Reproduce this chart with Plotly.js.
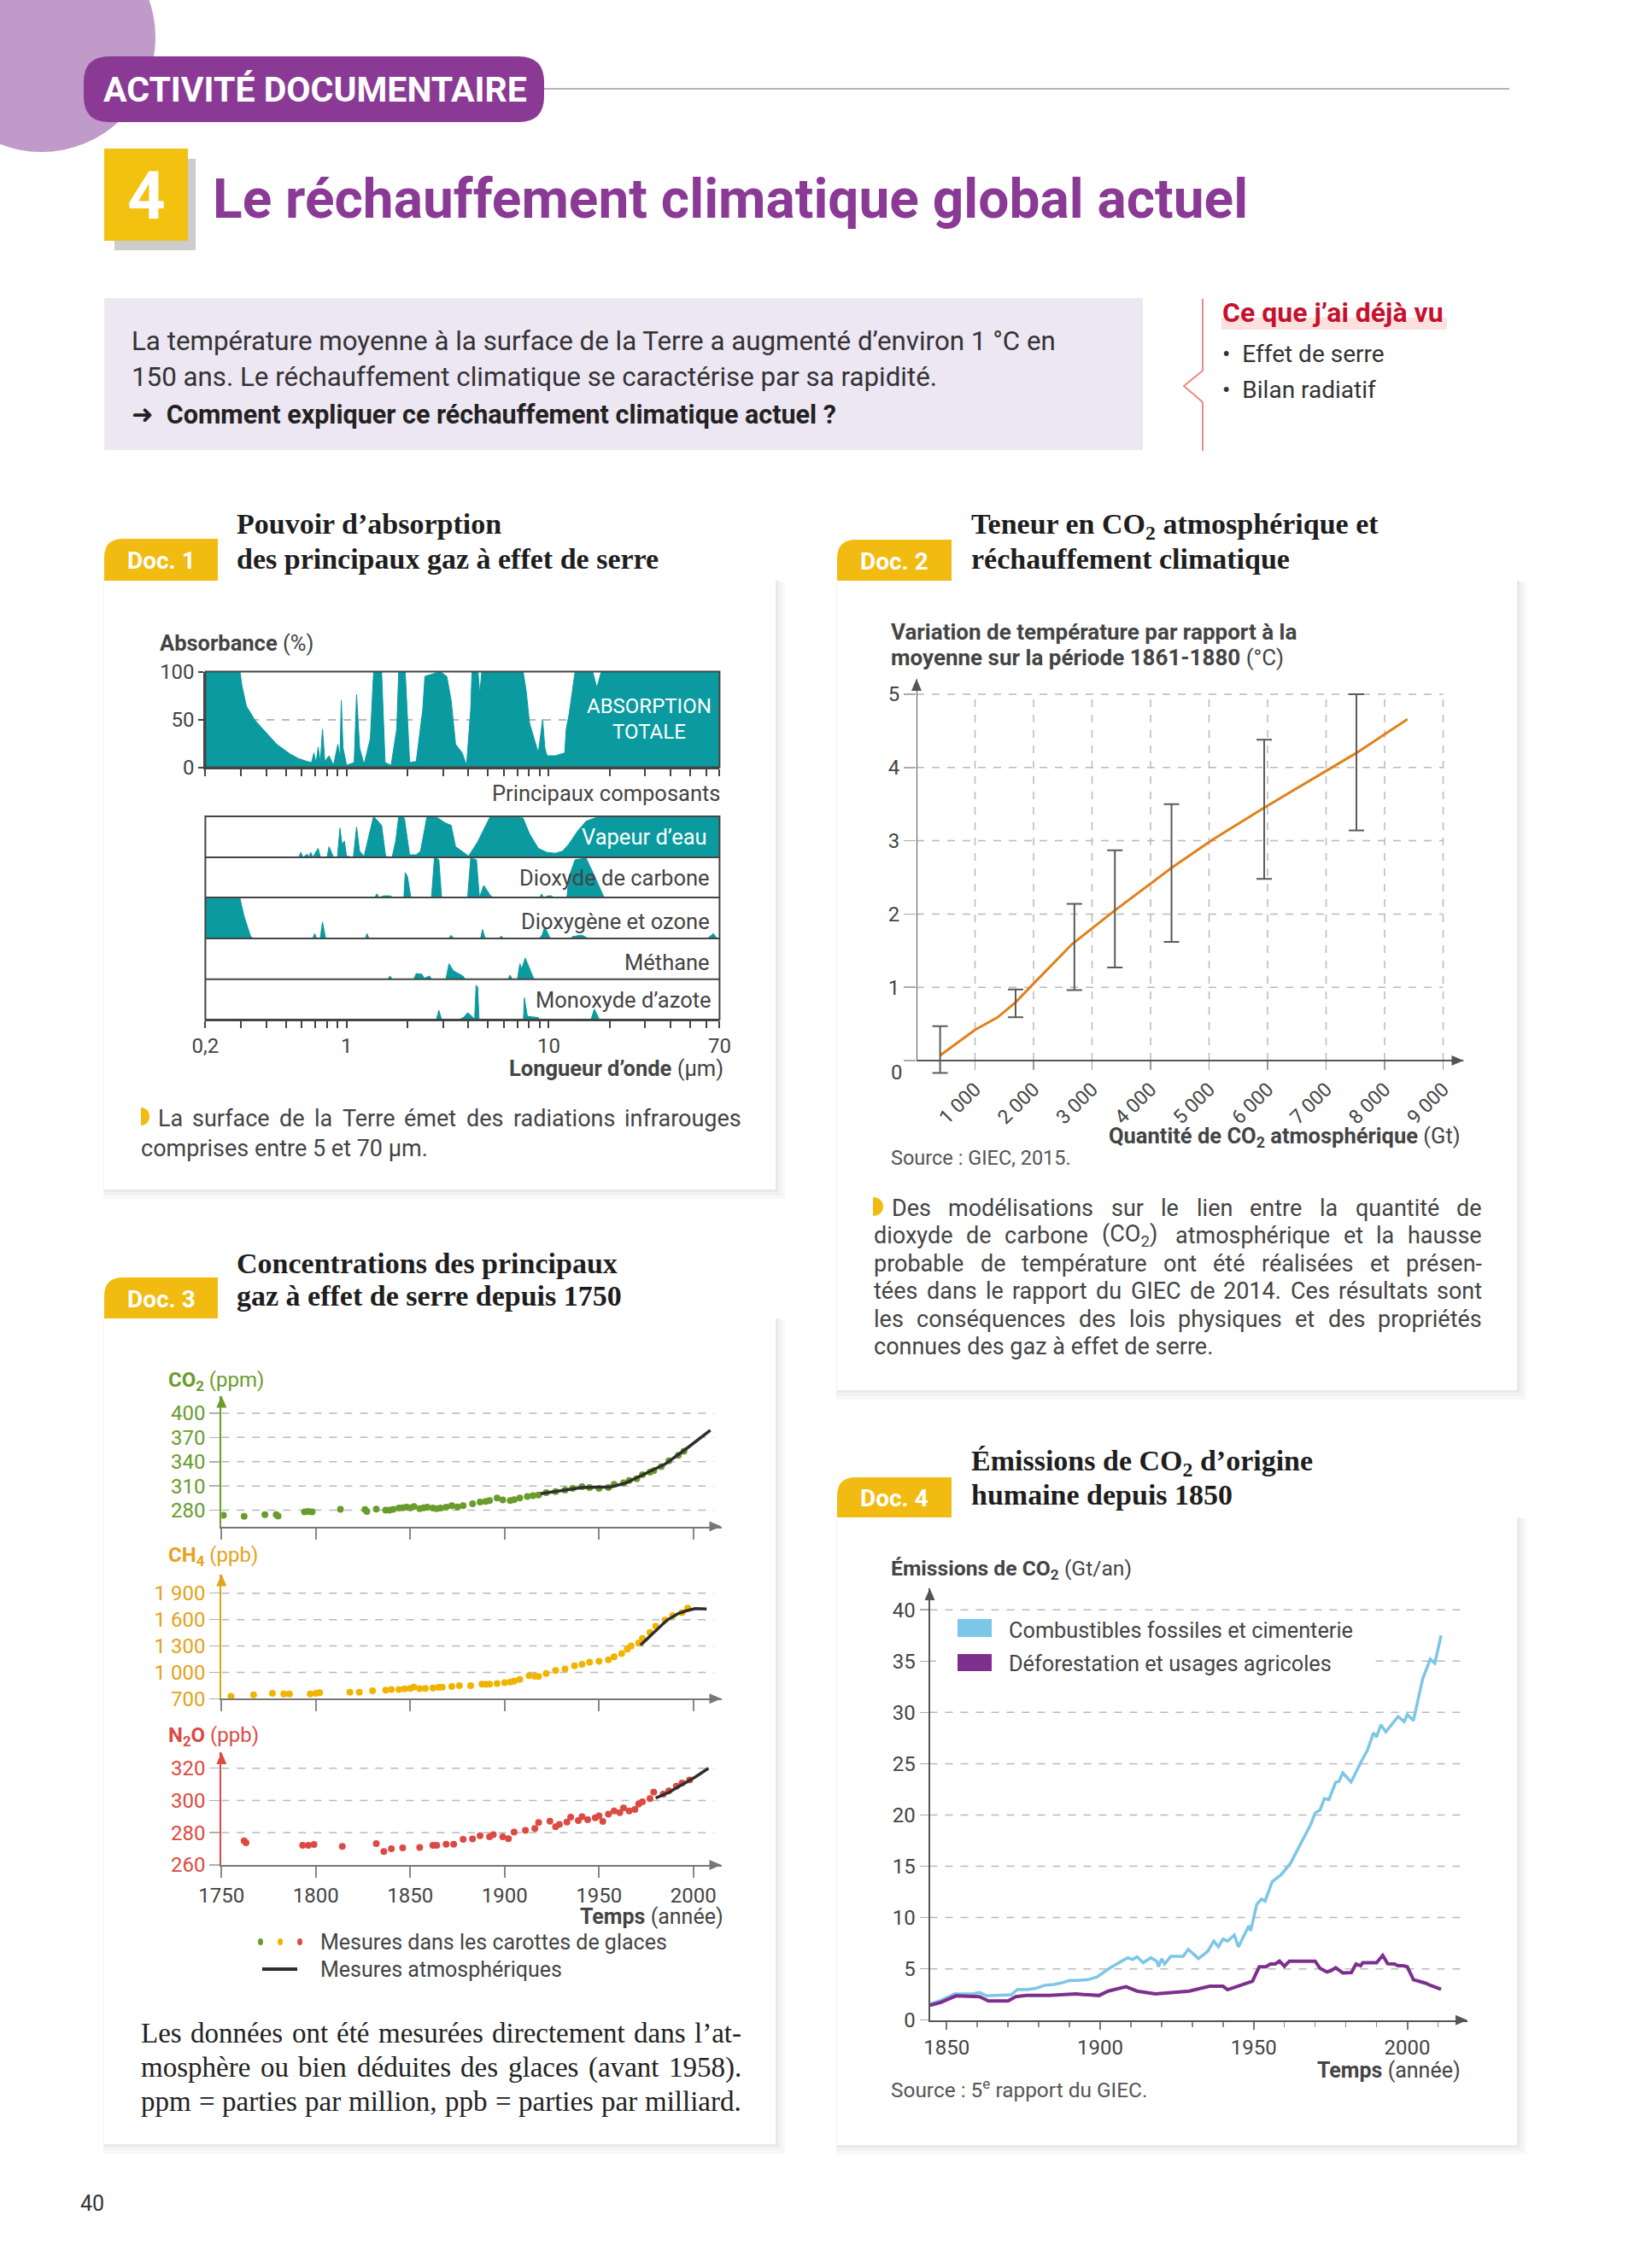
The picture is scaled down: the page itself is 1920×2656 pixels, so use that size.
<!DOCTYPE html>
<html><head><meta charset="utf-8">
<script src="https://cdn.plot.ly/plotly-3.0.1.min.js"></script>
<style>html,body{margin:0;padding:0;background:#fff}#chart{width:1920px;height:2656px}</style>
</head><body><div id="chart"></div>
<script>
// ---------------- DATA ----------------
// Doc 1 : absorption spectra  [wavelength µm, absorbance %]
const lamMajor=[0.2,1,10,70];
const lamMajorText=['0,2','1','10','70'];
const lamMinor=[0.3,0.4,0.5,0.6,0.7,0.8,0.9,2,3,4,5,6,7,8,9,20,30,40,50,60];
const absTotal=[[0.2,100],[0.297,100],[0.303,86],[0.319,64],[0.352,49],[0.409,34],[0.451,24],[0.524,14],[0.579,9],[0.639,6],[0.671,5],[0.689,15],[0.706,4],[0.723,21],[0.741,5],[0.760,40],[0.780,6],[0.819,12],[0.861,2],[0.905,24],[0.927,10],[0.941,70],[0.960,20],[1.0,2],[1.09,5],[1.12,76],[1.16,20],[1.22,3],[1.31,30],[1.36,100],[1.49,100],[1.55,5],[1.66,2],[1.77,40],[1.81,100],[1.95,100],[2.05,5],[2.21,6],[2.38,60],[2.44,95],[2.9,100],[3.13,95],[3.29,70],[3.46,24],[3.73,15],[3.92,2],[4.11,60],[4.17,100],[4.47,100],[4.56,76],[4.66,100],[7.47,100],[7.73,80],[8.04,46],[8.45,30],[8.88,15],[9.33,50],[9.57,20],[9.81,12],[10.8,12],[12.0,15],[12.2,40],[12.6,55],[13.5,100],[16.5,100],[17.3,83],[18.2,100],[70,100]];
const absH2O=[[0.2,0],[0.58,0],[0.593,12],[0.61,0],[0.639,8],[0.65,0],[0.665,12],[0.68,0],[0.723,22],[0.742,0],[0.80,0],[0.819,26],[0.861,0],[0.90,0],[0.927,71],[0.95,30],[0.974,40],[1.0,3],[1.08,0],[1.12,74],[1.16,15],[1.22,2],[1.31,67],[1.36,100],[1.49,78],[1.56,2],[1.68,1],[1.75,40],[1.81,100],[1.93,96],[2.05,6],[2.21,6],[2.32,15],[2.5,100],[2.83,96],[3.05,85],[3.29,78],[3.46,26],[3.72,15],[4.01,3],[4.43,36],[5.14,100],[7.46,96],[8.04,57],[8.88,22],[9.8,12],[10.8,10],[11.7,15],[12.6,33],[13.9,64],[15.3,88],[16.9,96],[18.7,100],[70,100]];
const absCO2=[[0.2,0],[1.38,0],[1.41,9],[1.45,0],[1.53,4],[1.64,4],[1.7,0],[1.92,0],[1.95,62],[2.0,52],[2.08,0],[2.63,0],[2.72,100],[2.86,94],[2.95,0],[3.97,0],[4.11,98],[4.39,94],[4.54,0],[4.77,30],[5.14,5],[5.3,0],[9.0,0],[9.24,9],[9.4,0],[10.0,4],[10.3,4],[10.6,0],[12.3,0],[12.6,52],[13.5,94],[15.3,98],[16.9,52],[18.7,2],[19.2,0],[70,0]];
const absO2O3=[[0.2,100],[0.296,100],[0.311,54],[0.335,5],[0.344,0],[0.68,0],[0.695,12],[0.71,0],[0.74,0],[0.76,40],[0.787,0],[1.24,0],[1.26,12],[1.29,0],[3.2,0],[3.29,8],[3.38,0],[4.6,0],[4.7,22],[4.85,0],[5.7,0],[5.82,6],[5.95,0],[9.0,0],[9.3,10],[9.56,29],[10.05,5],[10.2,0],[12.8,0],[13.2,5],[14.6,8],[15.7,0],[61,0],[63,5],[65.3,12],[68,0],[70,0]];
const absCH4=[[0.2,0],[1.6,0],[1.64,8],[1.68,0],[2.15,0],[2.21,14],[2.36,12],[2.42,2],[2.57,8],[2.63,0],[3.1,0],[3.21,38],[3.37,21],[3.78,7],[3.85,0],[6.3,0],[6.43,10],[6.6,0],[7.0,0],[7.2,38],[7.35,25],[7.65,52],[8.45,0],[70,0]];
const absN2O=[[0.2,0],[2.78,0],[2.86,23],[2.95,0],[3.6,0],[3.78,5],[3.97,17],[4.17,8],[4.3,0],[4.37,85],[4.45,80],[4.52,0],[7.5,0],[7.57,54],[7.84,8],[8.88,5],[9.0,0],[16.2,0],[16.8,26],[17.5,5],[17.8,0],[70,0]];

// Doc 2 : warming vs cumulative CO2 (Gt, °C)
const co2Gt=[403,1000,1387,1700,2000,2660,3390,4360,5050,5940,7520,8390];
const warming=[0.07,0.42,0.59,0.8,1.05,1.59,2.05,2.63,3.01,3.45,4.2,4.66];
const errGt=[403,1693,2698,3390,4358,5942,7518];
const errLow=[-0.17,0.59,0.96,1.27,1.62,2.48,3.14];
const errHigh=[0.47,0.97,2.14,2.87,3.5,4.38,5.0];
const gtTicks=[1000,2000,3000,4000,5000,6000,7000,8000,9000];
const gtLabels=['1 000','2 000','3 000','4 000','5 000','6 000','7 000','8 000','9 000'];
const tempTicks=[1,2,3,4,5];

// Doc 3 : concentrations [year, value]
const co2Ice=[[1751,273.6],[1762,272.5],[1773,274.4],[1779,274.4],[1780,272.8],[1794,278],[1796,278.5],[1798,278],[1813,281],[1826,280.8],[1827,278.6],[1832,281.5],[1837,280],[1839,280],[1841,281],[1844,282.6],[1846,283],[1848,283.8],[1850,283],[1852,284.5],[1855,282],[1857,283],[1859,283.8],[1862,282.6],[1864,282],[1866,282.6],[1869,283.8],[1872,285.6],[1875,284],[1878,285.6],[1883,288],[1887,290],[1890,291],[1892,292],[1896,295],[1899,292.8],[1903,292],[1905,293],[1908,295],[1912,296.9],[1915,298],[1918,298.8],[1922,301.8],[1927,303],[1932,305],[1936,307],[1941,309],[1945,308],[1950,307],[1955,308],[1958,312],[1963,313.8],[1966,316.8],[1970,319],[1973,324],[1977,327],[1979,328.8],[1983,334],[1987,341],[1992,348],[1995,353]];
const co2Atm=[[1919,300.3],[1929,304],[1941,308],[1952,308.6],[1956,308.6],[1964,313.4],[1975,326],[1985,337],[1996,355.6],[2009,379]];
const ch4Ice=[[1755,728],[1767,745],[1777,762],[1783,755],[1786,755],[1797,755],[1800,762],[1802,769],[1818,773],[1823,773],[1830,790],[1837,797],[1840,804],[1844,804],[1847,811],[1850,818],[1852,831],[1855,814],[1858,818],[1862,821],[1865,828],[1867,831],[1872,838],[1876,849],[1882,849],[1888,866],[1890,862],[1892,866],[1896,873],[1900,883],[1903,890],[1905,900],[1908,918],[1913,963],[1916,955],[1918,953],[1922,987],[1927,1022],[1932,1039],[1937,1074],[1941,1091],[1945,1115],[1950,1126],[1955,1143],[1958,1177],[1962,1212],[1965,1264],[1967,1299],[1971,1333],[1973,1385],[1977,1454],[1980,1523],[1985,1593],[1989,1645],[1994,1679],[1997,1731]];
const ch4Atm=[[1972,1309],[1979,1454],[1986,1593],[1992,1669],[1996,1698],[2001,1724],[2007,1721]];
const n2oIce=[[1762,274.9],[1763,273.8],[1793,272.2],[1796,272.2],[1799,272.7],[1814,271.5],[1832,273.2],[1836,268.4],[1840,270.1],[1846,270.6],[1855,270.8],[1862,272.2],[1864,272.2],[1869,272.9],[1873,272.9],[1878,275.9],[1883,276.1],[1887,278.2],[1892,277.5],[1894,278.8],[1899,277.5],[1902,276.3],[1905,280.4],[1911,281.4],[1916,282.6],[1918,286.3],[1924,287.2],[1927,283.7],[1929,285.1],[1933,286.6],[1935,289.6],[1939,287.6],[1941,289.9],[1944,288.1],[1948,289.2],[1950,290.5],[1952,287],[1955,291.5],[1958,293.5],[1961,292.4],[1963,295.3],[1966,293.5],[1969,294.4],[1971,297.7],[1973,299.2],[1977,301.2],[1979,305.2],[1984,303.9],[1987,305.9],[1991,308.9],[1994,310.8],[1998,312.7]];
const n2oAtm=[[1980,301.5],[1987,305],[1994,309.8],[2001,314.6],[2008,320]];
const yearTicks=[1750,1800,1850,1900,1950,2000];

// Doc 4 : emissions (Gt CO2 / year)
const fossil=[[1844.6,1.58],[1848,1.9],[1852.6,2.55],[1858.5,2.55],[1860.7,2.7],[1863,2.36],[1871,2.47],[1873,2.97],[1876,2.97],[1879,3.1],[1882,3.4],[1885,3.47],[1888,3.67],[1890,3.86],[1892,3.86],[1896,3.94],[1899,4.2],[1901,4.6],[1903,5.05],[1907,5.75],[1909,6.08],[1910.6,5.9],[1912,6.17],[1914,5.6],[1916.5,6.08],[1918.4,5.75],[1919,5.2],[1920,5.97],[1921,5.47],[1923,6.22],[1927,6.22],[1928.7,6.9],[1932,6.0],[1935,6.7],[1937,7.7],[1938.5,7.14],[1940,7.9],[1941.5,7.7],[1943.7,8.3],[1945,7.14],[1948.4,9.2],[1949,8.7],[1951,11.3],[1952.5,11.8],[1953.7,11.6],[1956,13.5],[1959,14.2],[1962,15.3],[1965,17],[1968.6,19.1],[1970,20.2],[1971.6,20.5],[1973,21.6],[1974.5,21.5],[1976.7,23.2],[1977.7,23.25],[1979,24.1],[1981.7,23.2],[1985,25.2],[1987,26.3],[1989,28],[1990,27.6],[1991.4,28.8],[1993,28.1],[1997,29.6],[1999,29.1],[2000,29.8],[2002,29.2],[2005,33.25],[2007.5,35.2],[2009,34.8],[2011,37.5]];
const landUse=[[1844.6,1.44],[1848,1.72],[1853,2.36],[1860.7,2.28],[1863.6,1.86],[1870,1.86],[1872.5,2.28],[1876,2.4],[1883.5,2.4],[1892,2.55],[1899.6,2.4],[1902.6,2.83],[1908.4,3.25],[1912,2.83],[1918,2.55],[1929,2.83],[1935.6,3.3],[1940,3.3],[1941.5,2.97],[1949.6,3.8],[1951.8,5.2],[1954,5.2],[1955.4,5.47],[1957,5.47],[1958.4,5.75],[1960,5.25],[1961.6,5.75],[1970,5.75],[1971.6,5.05],[1973.8,4.7],[1975,4.8],[1976.7,5.1],[1979,4.6],[1981.8,4.64],[1983.3,5.47],[1984.8,5.3],[1985.5,5.6],[1990,5.6],[1992,6.3],[1993.6,5.5],[1995.8,5.47],[1997,5.3],[1998.7,5.3],[2000,5.2],[2002,3.94],[2004.6,3.75],[2006,3.6],[2007.5,3.39],[2009.8,3.1],[2011,3.0]];
const emTicks=[0,5,10,15,20,25,30,35,40];

// ---------------- HELPERS ----------------
const W=1920,H=2656;
const PX=x=>x/W, PY=y=>1-y/H;
const dx=(a,b)=>[a/W,b/W];
const dy=(t,b)=>[1-b/H,1-t/H];
const SANS='Roboto, "Open Sans", "DejaVu Sans", sans-serif';
const SERIF='"Liberation Serif", "DejaVu Serif", serif';
const TXT='#444444', AX='#555555', GRID='#b9b9b9';
const TEAL='#0a9aa0', GOLD='#f2bb12', PURPLE='#8a3a95';
const GREEN='#6a9c2c', YEL='#f0b400', YELT='#e5a21a', RED='#dc4a44';
const ann=[], shp=[];
function T(x,y,text,o={}){ann.push({x:PX(x),y:PY(y),xref:'paper',yref:'paper',text,showarrow:false,
  xanchor:o.xa||'left',yanchor:o.ya||'middle',borderpad:0,
  font:{family:o.family||SANS,size:o.size||24,color:o.color||TXT}});}
function R(x0,y0,x1,y1,fill,o={}){shp.push({type:'rect',xref:'paper',yref:'paper',x0:PX(x0),x1:PX(x1),y0:PY(y0),y1:PY(y1),
  fillcolor:fill,line:{width:o.lw||0,color:o.lc||fill},layer:o.layer||'below'});}
function L(x0,y0,x1,y1,color,w,o={}){shp.push({type:'line',xref:'paper',yref:'paper',x0:PX(x0),x1:PX(x1),y0:PY(y0),y1:PY(y1),
  line:{color,width:w,dash:o.dash||'solid'},layer:o.layer||'above'});}
const f=(x,y)=>PX(x)+','+PY(y);
function P(pts,fill,o={}){let d=pts.map((p,i)=>(i?'L':'M')+f(p[0],p[1])).join('')+(o.open?'':'Z');
  shp.push({type:'path',xref:'paper',yref:'paper',path:d,fillcolor:o.open?'rgba(0,0,0,0)':fill,
  line:{width:o.lw||0,color:o.lc||fill},layer:o.layer||'above'});}
function RR(x0,y0,x1,y1,r,fill,c=[1,1,1,1],layer='below'){const [tl,tr,br,bl]=c.map(v=>v?r:0);
  let d='M'+f(x0+tl,y0)+'L'+f(x1-tr,y0)+(tr?'Q'+f(x1,y0)+' '+f(x1,y0+tr):'')+'L'+f(x1,y1-br)+(br?'Q'+f(x1,y1)+' '+f(x1-br,y1):'')
   +'L'+f(x0+bl,y1)+(bl?'Q'+f(x0,y1)+' '+f(x0,y1-bl):'')+'L'+f(x0,y0+tl)+(tl?'Q'+f(x0,y0)+' '+f(x0+tl,y0):'')+'Z';
  shp.push({type:'path',xref:'paper',yref:'paper',path:d,fillcolor:fill,line:{width:0},layer});}
function bullet(x0,y0,x1,y1){const w=(x1-x0)*1.33;
  shp.push({type:'path',xref:'paper',yref:'paper',path:'M'+f(x0,y0)+'C'+f(x0+w,y0)+' '+f(x0+w,y1)+' '+f(x0,y1)+'Z',fillcolor:GOLD,line:{width:0},layer:'above'});}
function arrowUp(x,y,c){P([[x-6,y+14],[x,y],[x+6,y+14]],c);}
function arrowRight(x,y,c){P([[x-14,y-6],[x,y],[x-14,y+6]],c);}
function G(xr,yr,x0,y0,x1,y1,color,w,dash){shp.push({type:'line',xref:xr,yref:yr,x0,y0,x1,y1,line:{color,width:w,dash:dash||'solid'},layer:'below'});}
const cnv=document.createElement('canvas').getContext('2d');
const strip=s=>s.replace(/<[^>]+>/g,'');
function justify(lines,x0s,x1,y0,lh,size,family,color,lastJust){
  lines.forEach((line,i)=>{const y=y0+i*lh; const x0=Array.isArray(x0s)?x0s[i]:x0s;
    if(i===lines.length-1&&!lastJust){T(x0,y,line,{size,family,color});return;}
    const words=line.split(' '); cnv.font=size+'px '+family;
    const ws=words.map(w=>cnv.measureText(strip(w)).width); const tot=ws.reduce((a,b)=>a+b,0);
    const gap=(x1-x0-tot)/(words.length-1); let x=x0;
    words.forEach((w,j)=>{T(x,y,w,{size,family,color});x+=ws[j]+gap;});});}
function card(x0,y0,x1,y1){R(x0-1,y0+2,x1+11,y1+11,'#f8f8f8');R(x0-1,y0+1,x1+7,y1+7,'#f2f2f2');R(x0,y0,x1+3,y1+3,'#e9e9e9');R(x0,y0,x1,y1,'#ffffff');}
function tab(x0,y0,x1,y1,label){RR(x0,y0,x1,y1,22,GOLD,[1,0,0,0]);T((x0+x1)/2,(y0+y1)/2+1,'<b>'+label+'</b>',{xa:'center',size:28,color:'#ffffff'});}
function docTitle(x,y1,y2,l1,l2){T(x,y1,'<b>'+l1+'</b>',{family:SERIF,size:34,color:'#1e1e1e'});T(x,y2,'<b>'+l2+'</b>',{family:SERIF,size:34,color:'#1e1e1e'});}

// ---------------- PAGE FRAME ----------------
shp.push({type:'circle',xref:'paper',yref:'paper',x0:PX(-85),x1:PX(182),y0:PY(178),y1:PY(-90),fillcolor:'#c09ac9',line:{width:0},layer:'below'});
RR(98,66,637,143,30,PURPLE,[1,1,1,1]);
T(369,105,'<b>ACTIVITÉ DOCUMENTAIRE</b>',{xa:'center',size:41,color:'#ffffff'});
L(637,104,1767,104,'#bcaec2',2,{layer:'below'});
R(134,186,229,293,'#cdcdcd');
R(122,174,220,282,'#f3c10f');
T(171,230,'<b>4</b>',{xa:'center',size:78,color:'#ffffff'});
T(248,234,'<b>Le réchauffement climatique global actuel</b>',{size:64,color:PURPLE});
R(122,349,1338,527,'#ede6f3');
T(153,399,'La température moyenne à la surface de la Terre a augmenté d’environ 1 °C en',{size:31.3,color:'#333'});
T(153,441,'150 ans. Le réchauffement climatique se caractérise par sa rapidité.',{size:31.3,color:'#333'});
T(153,486,'<b>➜  Comment expliquer ce réchauffement climatique actuel ?</b>',{size:30.5,color:'#222'});
R(1430,372,1694,386,'#fbe2df');
T(1430,366,'<b>Ce que j’ai déjà vu</b>',{size:32,color:'#c8102e'});
T(1430,414,'•  Effet de serre',{size:28,color:'#333'});
T(1430,457,'•  Bilan radiatif',{size:28,color:'#333'});
P([[1408,350],[1408,434],[1386,452],[1408,471],[1408,528]],'#e98b84',{open:true,lw:2,lc:'#e98b84'});
T(108,2580,'40',{xa:'center',size:25,color:'#333'});

// cards
card(122,680,908,1393); card(980,680,1776,1628); card(122,1544,908,2511); card(980,1777,1776,2512);
tab(122,631,255,680,'Doc. 1'); tab(980,632,1114,680,'Doc. 2'); tab(122,1496,255,1544,'Doc. 3'); tab(980,1730,1114,1777,'Doc. 4');
docTitle(276,613,654,'Pouvoir d’absorption','des principaux gaz à effet de serre');
docTitle(1136,616,654,'Teneur en CO<sub>2</sub> atmosphérique et','réchauffement climatique');
docTitle(276,1479,1517,'Concentrations des principaux','gaz à effet de serre depuis 1750');
docTitle(1136,1713,1750,'Émissions de CO<sub>2</sub> d’origine','humaine depuis 1850');

// ---------------- DOC 1 ----------------
const D1X=[240.4,842.4];
const strips=[[956,1004],[1004,1051],[1051,1099],[1099,1146.7],[1146.7,1194]];
const S1=25.5;
T(186,753,'<b>Absorbance</b> (%)',{size:S1});
R(D1X[0],786.5,D1X[1],898.5,'rgba(0,0,0,0)',{lw:2,lc:'#444',layer:'above'});
T(760,827,'ABSORPTION',{xa:'center',size:24,color:'#fff'});
T(760,857,'TOTALE',{xa:'center',size:24,color:'#fff'});
T(845,929,'Principaux composants',{xa:'right',size:S1});
R(D1X[0],956,D1X[1],1194,'rgba(0,0,0,0)',{lw:2,lc:'#444',layer:'above'});
[1004,1051,1099,1146.7].forEach(y=>L(D1X[0],y,D1X[1],y,'#444',2));
T(829,980,'Vapeur d’eau',{xa:'right',size:S1,color:'#fff'});
T(832,1028,'Dioxyde de carbone',{xa:'right',size:S1});
T(832,1079,'Dioxygène et ozone',{xa:'right',size:S1});
T(832,1127,'Méthane',{xa:'right',size:S1});
T(834,1171,'Monoxyde d’azote',{xa:'right',size:S1});
T(848,1251,'<b>Longueur d’onde</b> (µm)',{xa:'right',size:S1});
bullet(165,1297,175,1318);
justify(['La surface de la Terre émet des radiations infrarouges','comprises entre 5 et 70 µm.'],[184,164],867,1310,35,27,SANS,TXT,false);

// ---------------- DOC 2 ----------------
T(1042,740,'<b>Variation de température par rapport à la</b>',{size:26});
T(1042,770,'<b>moyenne sur la période 1861-1880</b> (°C)',{size:26});
T(1050,1256,'0',{xa:'center',size:24});
T(1711,1331,'<b>Quantité de CO<sub>2</sub> atmosphérique</b> (Gt)',{xa:'right',size:25.5});
T(1042,1356,'Source : GIEC, 2015.',{size:23.5,color:'#555'});
bullet(1022,1402,1034,1424);
justify(['Des modélisations sur le lien entre la quantité de','dioxyde de carbone (CO<sub>2</sub>) atmosphérique et la hausse','probable de température ont été réalisées et présen-','tées dans le rapport du GIEC de 2014. Ces résultats sont','les conséquences des lois physiques et des propriétés','connues des gaz à effet de serre.'],
  [1043,1022,1022,1022,1022,1022],1734,1415,32.4,27,SANS,TXT,false);
gtTicks.forEach(v=>G('x7','y7',v,0,v,5,GRID,1.5,'dash'));
tempTicks.forEach(v=>G('x7','y7',0,v,9000,v,GRID,1.5,'dash'));
G('x7','y7',0,0,9350,0,AX,2); G('x7','y7',0,0,0,5.21,AX,2);
arrowUp(1073,795,AX); arrowRight(1713.5,1242,AX);

// ---------------- DOC 3 ----------------
const D3X=[259.3,844.5];
T(196,1617,'<b>CO<sub>2</sub></b> (ppm)',{size:24,color:GREEN});
T(196,1822,'<b>CH<sub>4</sub></b> (ppb)',{size:24,color:YELT});
T(196,2033,'<b>N<sub>2</sub>O</b> (ppb)',{size:24,color:RED});
[280,310,340,370,400].forEach(v=>G('x8','y8',1750,v,2011,v,GRID,1.5,'dash'));
[1000,1300,1600,1900].forEach(v=>G('x9','y9',1750,v,2011,v,GRID,1.5,'dash'));
[280,300,320].forEach(v=>G('x10','y10',1750,v,2011,v,GRID,1.5,'dash'));
arrowUp(D3X[0],1634.6,GREEN); arrowUp(D3X[0],1843.6,YELT); arrowUp(D3X[0],2052,RED);
arrowRight(D3X[1],1787.5,'#777'); arrowRight(D3X[1],1989.3,'#777'); arrowRight(D3X[1],2184,'#777');
T(848,2244,'<b>Temps</b> (année)',{xa:'right',size:25});
[[305,GREEN],[328,YEL],[351,RED]].forEach(([x,c])=>shp.push({type:'circle',xref:'paper',yref:'paper',x0:PX(x-3),x1:PX(x+3),y0:PY(2278),y1:PY(2270),fillcolor:c,line:{width:0},layer:'above'}));
T(374,2274,'Mesures dans les carottes de glaces',{size:25});
L(307,2306,348,2306,'#2e2e2e',4);
T(374,2306,'Mesures atmosphériques',{size:25});
justify(['Les données ont été mesurées directement dans l’at-','mosphère ou bien déduites des glaces (avant 1958).','ppm = parties par million, ppb = parties par milliard.'],164,867,2381,40,33,SERIF,'#222',true);

// ---------------- DOC 4 ----------------
T(1042,1838,'<b>Émissions de CO<sub>2</sub></b> (Gt/an)',{size:24.7});
emTicks.slice(1).forEach(v=>G('x11','y11',1844.5,v,2017.4,v,GRID,1.5,'dash'));
arrowUp(1088.5,1860,AX); arrowRight(1718,2365.7,AX);
R(1096,1892,1610,1966,'#ffffff',{layer:'above'});
R(1121,1896,1161,1917,'#7cc6e8',{layer:'above'});
R(1121,1937,1161,1957,'#7d2f8e',{layer:'above'});
T(1180,1909,'Combustibles fossiles et cimenterie',{size:25.3});
T(1180,1948,'Déforestation et usages agricoles',{size:25.3});
T(1711,2424,'<b>Temps</b> (année)',{xa:'right',size:25});
T(1042,2446,'Source : 5<sup>e</sup> rapport du GIEC.',{size:24.4,color:'#555'});

// ---------------- TRACES ----------------
const spec=(d,xa,ya)=>({x:d.map(p=>p[0]),y:d.map(p=>p[1]),xaxis:xa,yaxis:ya,mode:'lines',fill:'tozeroy',fillcolor:TEAL,line:{color:TEAL,width:1},hoverinfo:'skip'});
const pts=(d,xa,ya,c)=>({x:d.map(p=>p[0]),y:d.map(p=>p[1]),xaxis:xa,yaxis:ya,mode:'markers',marker:{color:c,size:8},hoverinfo:'skip'});
const ln=(d,xa,ya,c,w)=>({x:d.map(p=>p[0]),y:d.map(p=>p[1]),xaxis:xa,yaxis:ya,mode:'lines',line:{color:c,width:w},hoverinfo:'skip'});
const data=[
 spec(absTotal,'x','y'), spec(absH2O,'x2','y2'), spec(absCO2,'x2','y3'), spec(absO2O3,'x2','y4'), spec(absCH4,'x2','y5'), spec(absN2O,'x2','y6'),
 {x:co2Gt,y:warming,xaxis:'x7',yaxis:'y7',mode:'lines',line:{color:'#e2801b',width:3},hoverinfo:'skip'},
 {x:errGt,y:errLow,xaxis:'x7',yaxis:'y7',mode:'markers',marker:{size:1,opacity:0},hoverinfo:'skip',
  error_y:{type:'data',symmetric:false,array:errHigh.map((h,i)=>h-errLow[i]),arrayminus:errLow.map(()=>0),color:'#5a5a5a',thickness:2,width:9}},
 pts(co2Ice,'x8','y8',GREEN), ln(co2Atm,'x8','y8','#2e2e2e',3.5),
 pts(ch4Ice,'x9','y9',YEL), ln(ch4Atm,'x9','y9','#2e2e2e',3.5),
 pts(n2oIce,'x10','y10',RED), ln(n2oAtm,'x10','y10','#2e2e2e',3.5),
 ln(fossil,'x11','y11','#7cc6e8',3.5), ln(landUse,'x11','y11','#7d2f8e',4)
];

// ---------------- AXES ----------------
const tf={family:SANS,size:24,color:TXT};
const lamAx=(anchor,labels)=>({domain:dx(D1X[0],D1X[1]),anchor,type:'log',range:[Math.log10(0.2),Math.log10(70)],
  tickmode:'array',tickvals:lamMajor,ticktext:lamMajorText,showticklabels:labels,ticks:'outside',ticklen:8,tickwidth:2,tickcolor:'#444',
  minor:{tickmode:'array',tickvals:lamMinor,ticks:'outside',ticklen:8,tickwidth:2,tickcolor:'#444',showgrid:false},
  showline:true,linecolor:'#444',linewidth:2,showgrid:false,zeroline:false,tickfont:tf,fixedrange:true});
const stripAx=(s)=>({domain:dy(s[0],s[1]),anchor:'x2',range:[0,100],visible:false,fixedrange:true});
const yrAx=(anchor,labels)=>({domain:dx(D3X[0],D3X[1]),anchor,range:[1750,2014.8],tickvals:yearTicks,showticklabels:labels,ticks:'outside',ticklen:13,tickwidth:2,tickcolor:'#888',
  showline:true,linecolor:'#777',linewidth:2,showgrid:false,zeroline:false,tickfont:tf});
const gasAx=(t,b,range,vals,text,c)=>({domain:dy(t,b),range,tickvals:vals,ticktext:text,ticks:'outside',ticklen:12,tickwidth:1.5,tickcolor:'#b0b0b0',
  showline:true,linecolor:c,linewidth:2,showgrid:false,zeroline:false,tickfont:{family:SANS,size:24,color:c}});
const layout={width:W,height:H,margin:{l:0,r:0,t:0,b:0,pad:0},paper_bgcolor:'#ffffff',plot_bgcolor:'rgba(0,0,0,0)',showlegend:false,
 font:{family:SANS,color:TXT},annotations:ann,shapes:shp,
 xaxis:lamAx('y',false),
 yaxis:{domain:dy(786.5,898.5),anchor:'x',range:[0,100],tickvals:[0,50,100],ticks:'outside',ticklen:6,tickwidth:2,tickcolor:'#444',showline:true,linecolor:'#444',linewidth:2,
   showgrid:true,gridcolor:GRID,gridwidth:2,griddash:'dash',zeroline:false,tickfont:tf,fixedrange:true},
 xaxis2:lamAx('y6',true),
 yaxis2:stripAx(strips[0]),yaxis3:stripAx(strips[1]),yaxis4:stripAx(strips[2]),yaxis5:stripAx(strips[3]),yaxis6:stripAx(strips[4]),
 xaxis7:{domain:dx(1073,1713.5),anchor:'free',position:PY(1242),range:[0,9350],tickvals:gtTicks,ticktext:gtLabels,tickangle:-45,ticks:'outside',ticklen:10,tickwidth:1.5,
   tickcolor:'#999',showline:false,showgrid:false,zeroline:false,tickfont:{family:SANS,size:23,color:TXT}},
 yaxis7:{domain:dy(795,1272),anchor:'x7',range:[-0.35,5.21],tickmode:'array',tickvals:tempTicks,ticks:'outside',ticklen:14,tickwidth:1.5,tickcolor:'#aaa',
   minor:{tickmode:'array',tickvals:[0],ticks:'outside',ticklen:14,tickwidth:1.5,tickcolor:'#aaa',showgrid:false},
   showline:false,showgrid:false,zeroline:false,tickfont:tf},
 xaxis8:yrAx('y8',false), xaxis9:yrAx('y9',false), xaxis10:yrAx('y10',true),
 yaxis8:Object.assign(gasAx(1634.6,1787.5,[260,421.5],[280,310,340,370,400],['280','310','340','370','400'],GREEN),{anchor:'x8'}),
 yaxis9:Object.assign(gasAx(1843.6,1989.3,[700,2115],[700,1000,1300,1600,1900],['700','1 000','1 300','1 600','1 900'],YELT),{anchor:'x9'}),
 yaxis10:Object.assign(gasAx(2052,2184,[260,329.9],[260,280,300,320],['260','280','300','320'],RED),{anchor:'x10'}),
 xaxis11:{domain:dx(1088.5,1718),anchor:'y11',range:[1844.5,2019.6],tickvals:[1850,1900,1950,2000],ticks:'outside',ticklen:9,tickwidth:2,tickcolor:'#777',
   minor:{tick0:1850,dtick:10,ticks:'outside',ticklen:6,tickwidth:1.5,tickcolor:'#888',showgrid:false},
   showline:true,linecolor:AX,linewidth:2,showgrid:false,zeroline:false,tickfont:tf},
 yaxis11:{domain:dy(1860,2365.7),anchor:'x11',range:[0,42.1],tickvals:emTicks,ticks:'outside',ticklen:10,tickwidth:1.5,tickcolor:'#aaa',
   showline:true,linecolor:AX,linewidth:2,showgrid:false,zeroline:false,tickfont:tf}
};
Plotly.newPlot('chart',data,layout,{displayModeBar:false,staticPlot:true});
</script></body></html>
